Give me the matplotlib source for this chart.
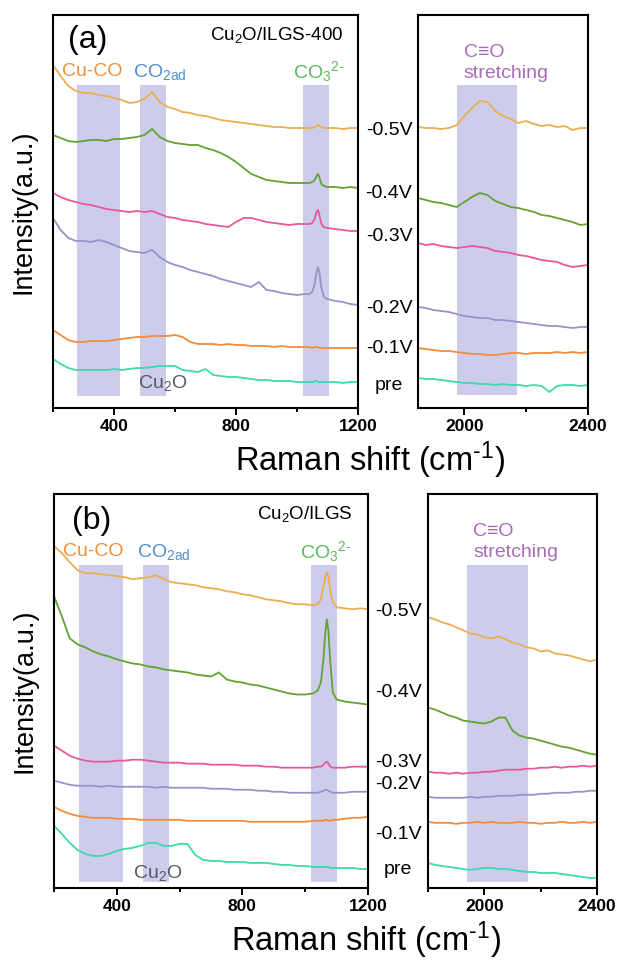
import matplotlib
matplotlib.use("Agg")
import matplotlib.pyplot as plt
from matplotlib.ticker import MultipleLocator
from matplotlib.transforms import blended_transform_factory

plt.rcParams['font.family'] = ['Liberation Sans', 'DejaVu Sans']
plt.rcParams['mathtext.default'] = 'regular'

# Raman shift sampling (cm-1)
shift_low = [200, 225, 250, 275, 300, 325, 350, 375, 400, 425, 450, 475, 500, 525, 550,
             575, 600, 625, 650, 675, 700, 725, 750, 775, 800, 825, 850, 875, 900, 925,
             950, 975, 1000, 1025, 1040, 1050, 1058, 1064, 1069, 1074, 1080, 1088, 1100,
             1125, 1150, 1175, 1200]
shift_high_a = [1850, 1875, 1900, 1925, 1950, 1975, 2000, 2025, 2050, 2075, 2100, 2125,
                2150, 2175, 2200, 2225, 2250, 2275, 2300, 2325, 2350, 2375, 2400]
shift_high_b = [1800, 1825, 1850, 1875, 1900, 1925, 1950, 1975, 2000, 2025, 2050, 2075,
                2100, 2125, 2150, 2175, 2200, 2225, 2250, 2275, 2300, 2325, 2350, 2375, 2400]

low_ticks = [400, 800, 1200]
high_ticks = [2000, 2400]

potentials = ['-0.5V', '-0.4V', '-0.3V', '-0.2V', '-0.1V', 'pre']
colors = ['#EBAE4F', '#62A332', '#E8589A', '#9494C8', '#F28C3C', '#3FD9AE']

# (a) Cu2O/ILGS-400, stacked intensities (a.u.)
a_low_05 = [343, 332, 322, 317, 315, 315, 313, 312, 310, 308, 305, 306, 309, 316, 306, 301, 299,
            296, 295, 293, 292, 290, 288, 287, 286, 285, 284, 283, 282, 281, 281, 280, 280, 280,
            280, 280, 281, 282, 283, 282, 281, 280, 280, 280, 279, 280, 280]
a_low_04 = [273, 270, 267, 266, 267, 268, 268, 267, 269, 269, 270, 271, 273, 279, 271, 267, 265,
            264, 263, 263, 260, 258, 255, 251, 246, 240, 234, 231, 228, 227, 226, 225, 225, 225,
            225, 226, 228, 232, 234, 230, 224, 222, 221, 221, 220, 221, 220]
a_low_03 = [215, 211, 208, 206, 204, 203, 201, 199, 198, 197, 196, 197, 196, 197, 194, 191, 190,
            188, 187, 186, 184, 183, 182, 181, 186, 190, 190, 188, 186, 185, 184, 183, 184, 184,
            184, 185, 189, 196, 198, 192, 184, 181, 180, 179, 178, 177, 177]
a_low_02 = [190, 178, 170, 167, 167, 166, 168, 166, 163, 160, 157, 156, 155, 158, 151, 146, 143,
            141, 138, 136, 134, 132, 129, 127, 125, 123, 121, 126, 118, 117, 115, 114, 113, 114,
            114, 116, 124, 136, 141, 134, 120, 111, 109, 107, 106, 104, 103]
a_low_01 = [78, 73, 68, 66, 66, 67, 67, 67, 68, 69, 70, 71, 71, 72, 72, 72, 73, 71, 66, 64, 64,
            64, 63, 64, 63, 63, 62, 62, 62, 61, 62, 61, 61, 61,
            61, 60, 61, 61, 61, 60, 60, 60, 60, 60, 60, 60, 60]
a_low_pre = [49, 44, 40, 38, 38, 38, 38, 38, 39, 38, 39, 40, 40, 41, 42, 42, 42, 38, 37, 36, 39,
             33, 32, 31, 31, 30, 29, 28, 28, 27, 27, 27, 26, 26,
             26, 26, 27, 27, 26, 26, 26, 26, 26, 26, 25, 26, 26]

a_high_05 = [281, 280, 280, 279, 280, 283, 292, 300, 307, 306, 297, 292, 289, 285, 287, 284, 282,
             283, 281, 282, 278, 280, 280]
a_high_04 = [210, 208, 206, 205, 203, 201, 206, 211, 215, 213, 207, 204, 201, 200, 198, 196, 193,
             192, 190, 188, 186, 183, 184]
a_high_03 = [165, 163, 164, 162, 161, 160, 161, 162, 161, 160, 157, 156, 155, 153, 152, 150, 148,
             147, 146, 143, 141, 142, 143]
a_high_02 = [101, 100, 98, 97, 96, 94, 92, 91, 90, 90, 88, 88, 87, 86, 85, 84, 83, 82, 82, 81, 80,
             81, 81]
a_high_01 = [60, 59, 58, 57, 57, 56, 55, 54, 54, 53, 53, 54, 55, 55, 54, 55, 55, 55, 56, 55, 56,
             55, 56]
a_high_pre = [30, 29, 29, 28, 27, 26, 25, 25, 24, 24, 23, 24, 23, 23, 22, 23, 22, 16, 22, 23, 23,
              22, 23]

# (b) Cu2O/ILGS
b_low_05 = [341, 334, 325, 317, 314, 314, 313, 312, 311, 310, 308, 309, 310, 312, 308, 305, 304,
            303, 302, 300, 299, 298, 296, 295, 293, 292, 290, 288, 287, 286, 284, 283, 283, 282,
            283, 288, 300, 311, 315, 310, 296, 285, 280, 279, 278, 279, 278]
b_low_04 = [291, 271, 249, 243, 240, 236, 233, 231, 228, 226, 224, 223, 221, 220, 218, 217, 216,
            215, 213, 212, 211, 215, 208, 206, 205, 203, 202, 200, 198, 196, 194, 193, 193, 194,
            197, 205, 228, 255, 268, 256, 225, 195, 188, 186, 185, 184, 183]
b_low_03 = [142, 137, 132, 129, 127, 126, 126, 126, 127, 127, 128, 128, 127, 126, 125, 125, 125,
            124, 124, 124, 123, 123, 123, 123, 122, 122, 122, 121, 121, 120, 120, 120, 120, 120,
            121, 121, 123, 125, 126, 124, 121, 120, 120, 120, 121, 121, 121]
b_low_02 = [107, 105, 103, 102, 102, 102, 101, 102, 101, 101, 101, 101, 101, 100, 101, 100, 100,
            100, 100, 100, 99, 99, 99, 98, 98, 98, 97, 97, 96, 96, 95, 95, 95, 95,
            95, 96, 97, 98, 98, 97, 96, 95, 95, 95, 96, 96, 96]
b_low_01 = [81, 77, 74, 72, 71, 70, 70, 70, 69, 69, 69, 68, 68, 68, 68, 68, 68, 67, 67, 67, 67,
            67, 67, 67, 67, 66, 66, 66, 66, 66, 66, 66, 66, 67,
            67, 67, 67, 68, 68, 67, 67, 68, 68, 69, 70, 70, 71]
b_low_pre = [62, 54, 45, 38, 34, 32, 32, 34, 37, 39, 40, 42, 45, 45, 42, 42, 44, 44, 33, 28, 27,
             27, 26, 26, 26, 25, 25, 25, 24, 23, 23, 22, 22, 21,
             21, 21, 21, 21, 21, 21, 20, 20, 20, 20, 20, 19, 19]

b_high_05 = [270, 268, 265, 263, 260, 257, 254, 253, 250, 249, 251, 248, 245, 243, 240, 239, 236,
             237, 234, 233, 232, 230, 228, 226, 228]
b_high_04 = [180, 178, 175, 172, 170, 167, 166, 165, 164, 166, 170, 170, 157, 152, 150, 149, 147,
             145, 143, 141, 140, 138, 136, 134, 133]
b_high_03 = [116, 115, 115, 114, 115, 114, 115, 115, 116, 116, 117, 118, 118, 118, 119, 119, 120,
             120, 121, 120, 121, 121, 122, 121, 122]
b_high_02 = [91, 90, 90, 90, 90, 90, 91, 90, 91, 91, 92, 92, 92, 93, 93, 93, 94, 94, 95, 95, 95,
             96, 96, 97, 97]
b_high_01 = [66, 65, 65, 65, 64, 65, 65, 66, 65, 66, 65, 65, 65, 66, 65, 65, 64, 65, 65, 66, 65,
             65, 66, 65, 66]
b_high_pre = [25, 23, 22, 21, 20, 19, 18, 19, 20, 20, 19, 19, 18, 17, 16, 16, 15, 15, 15, 14, 13,
              12, 11, 10, 10]

# vertical positions of the potential labels
a_label_y = [278, 215, 172, 100, 60, 23]
b_label_y = [276, 195, 125, 103, 53, 18]

band_color = '#CDCDEB'
HY = '\u2010'  # short hyphen for super/subscripts

fig = plt.figure(figsize=(6.24, 9.63), dpi=100)
W, H = 624, 963


def px_axes(x0, y_top, x1, y_bot):
    return fig.add_axes([x0 / W, 1 - y_bot / H, (x1 - x0) / W, (y_bot - y_top) / H])


ax_a = px_axes(53, 15, 358, 408)
ax_a2 = px_axes(418, 15, 588, 408)
ax_b = px_axes(54, 494, 368, 888)
ax_b2 = px_axes(428, 494, 597, 888)


def style(ax, xlim, ticks):
    ax.set_xlim(*xlim)
    ax.set_ylim(0, 393)
    ax.set_yticks([])
    ax.set_xticks(ticks)
    ax.set_xticklabels([str(t) for t in ticks], fontweight='bold', fontsize=12.5)
    ax.xaxis.set_minor_locator(MultipleLocator(200))
    ax.tick_params(axis='x', which='major', direction='out', length=5, width=1.4, pad=3)
    ax.tick_params(axis='x', which='minor', direction='out', length=3, width=1.4)
    for sp in ax.spines.values():
        sp.set_linewidth(1.5)


def draw(ax, x, series):
    for y, c in zip(series, colors):
        ax.plot(x, y, color=c, lw=1.3)


style(ax_a, (200, 1200), low_ticks)
style(ax_a2, (1850, 2400), high_ticks)
style(ax_b, (200, 1200), low_ticks)
style(ax_b2, (1800, 2400), high_ticks)

# assignment bands
for ax, bands, lo, hi in [(ax_a, [(280, 420), (485, 570), (1020, 1105)], 0.03, 0.822),
                          (ax_b, [(280, 420), (484, 567), (1018, 1101)], 0.015, 0.82),
                          (ax_a2, [(1975, 2170)], 0.033, 0.822),
                          (ax_b2, [(1940, 2155)], 0.015, 0.82)]:
    for x0, x1 in bands:
        ax.axvspan(x0, x1, ymin=lo, ymax=hi, color=band_color, lw=0, zorder=0)

draw(ax_a, shift_low, [a_low_05, a_low_04, a_low_03, a_low_02, a_low_01, a_low_pre])
draw(ax_a2, shift_high_a, [a_high_05, a_high_04, a_high_03, a_high_02, a_high_01, a_high_pre])
draw(ax_b, shift_low, [b_low_05, b_low_04, b_low_03, b_low_02, b_low_01, b_low_pre])
draw(ax_b2, shift_high_b, [b_high_05, b_high_04, b_high_03, b_high_02, b_high_01, b_high_pre])

# annotations inside the panels
for ax, tag, name, tx, ty in [(ax_a, '(a)', 'Cu$_2$O/ILGS-400', 0.049, 0.936),
                              (ax_b, '(b)', 'Cu$_2$O/ILGS', 0.057, 0.931)]:
    ax.text(tx, ty, tag, transform=ax.transAxes, fontsize=23, ha='left', va='center')
    ax.text(0.952, 0.95, name, transform=ax.transAxes, fontsize=13.5, ha='right', va='center')
    ax.set_ylabel('Intensity(a.u.)', fontsize=19.5, labelpad=12)

for ax, xs, y_lab, y_cu in [(ax_a, (0.03, 0.262, 0.787, 0.279), 0.855, 0.064),
                            (ax_b, (0.029, 0.264, 0.783, 0.252), 0.853, 0.038)]:
    ax.text(xs[0], y_lab, 'Cu-CO', transform=ax.transAxes, fontsize=14, color='#F0913A',
            ha='left', va='center')
    ax.text(xs[1], y_lab, 'CO$_{2ad}$', transform=ax.transAxes, fontsize=14, color='#4F8FCB',
            ha='left', va='center')
    ax.text(xs[2], y_lab, 'CO$_3$$^{2' + HY + '}$', transform=ax.transAxes, fontsize=14,
            color='#5CB85C', ha='left', va='center')
    ax.text(xs[3], y_cu, 'Cu$_2$O', transform=ax.transAxes, fontsize=14, color='#585866',
            ha='left', va='center')

for ax, tx in [(ax_a2, 0.27), (ax_b2, 0.266)]:
    ax.text(tx, 0.879, 'C\u2261O\nstretching', transform=ax.transAxes, fontsize=14,
            color='#A86CB8', ha='left', va='center', linespacing=1.3)

# potential labels between the two panels
for ax, xc, ys in [(ax_a, 389 / W, a_label_y), (ax_b, 398 / W, b_label_y)]:
    tr = blended_transform_factory(fig.transFigure, ax.transData)
    for lab, y in zip(potentials, ys):
        fig.text(xc, y, lab, transform=tr, fontsize=14, ha='center', va='center')

xlabel = 'Raman shift (cm$^{' + HY + '1}$)'
fig.text(370 / W, 1 - 460 / H, xlabel, fontsize=23.5, ha='center', va='center')
fig.text(366 / W, 1 - 940 / H, xlabel, fontsize=23.5, ha='center', va='center')

fig.savefig('out.png', dpi=100)
